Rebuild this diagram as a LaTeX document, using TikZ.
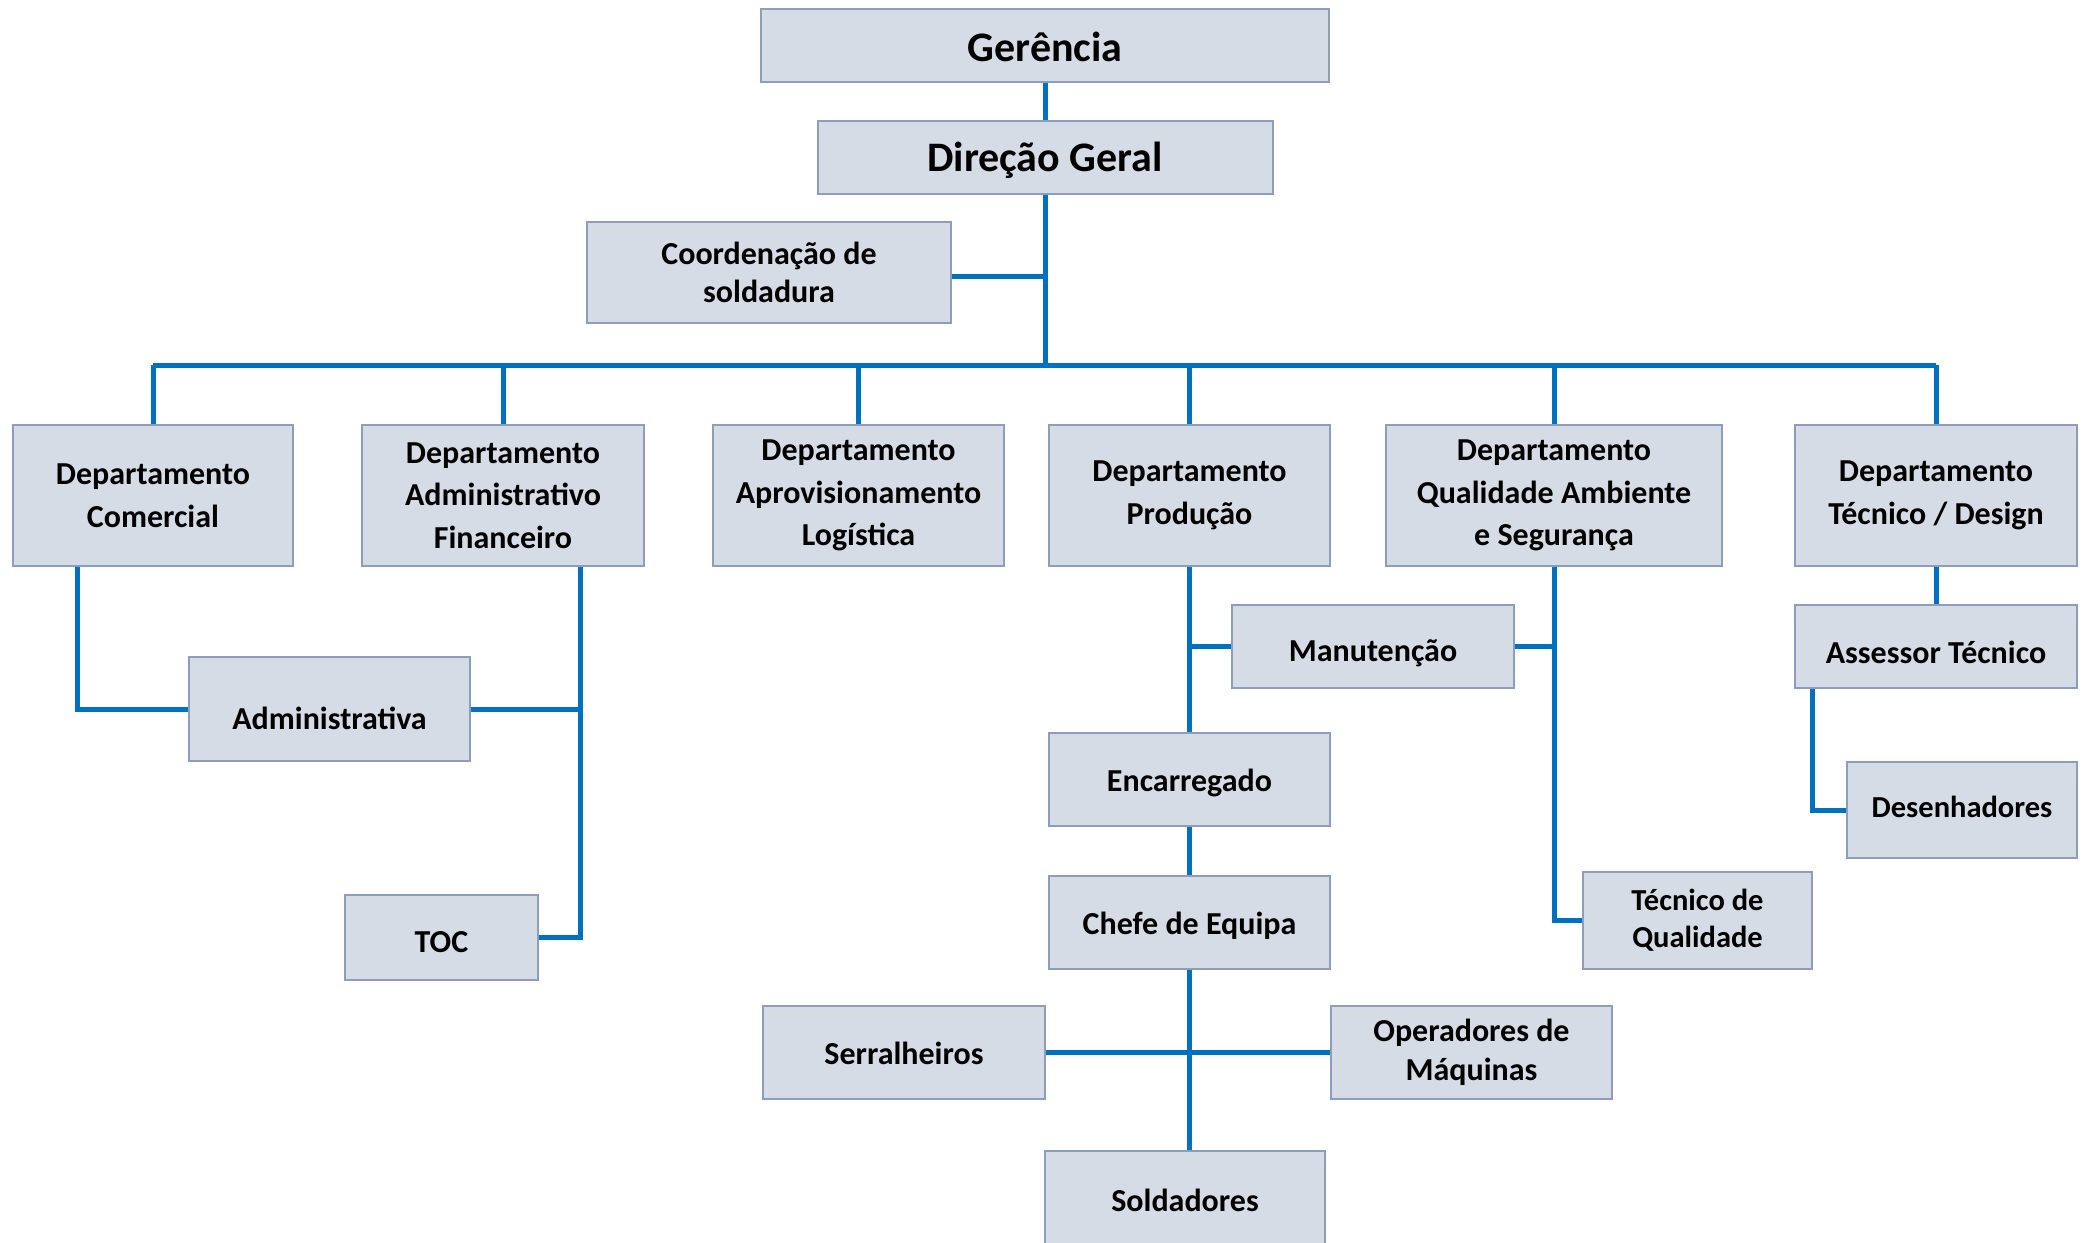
\documentclass[tikz,border=0pt]{standalone}
\usepackage{fontspec}
\setmainfont{Carlito}
\newcommand{\shiftdown}[2]{\raisebox{-#1}[\height][\depth]{#2}}
\begin{document}
\begin{tikzpicture}[x=1pt,y=-1pt,
  box/.style={draw=boxborder,fill=boxfill,line width=2pt,inner sep=0pt,align=center,
    font=\bfseries\fontsize{32}{42.5}\selectfont},
  bigbox/.style={box,font=\bfseries\fontsize{42}{50}\selectfont},
  tightbox/.style={box,font=\bfseries\fontsize{32}{38.5}\selectfont},
  smallbox/.style={box,font=\bfseries\fontsize{30.5}{37}\selectfont},
  conn/.style={draw=connblue,line width=5pt}]
\definecolor{boxfill}{HTML}{D6DCE5}
\definecolor{boxborder}{HTML}{8E9EBA}
\definecolor{connblue}{HTML}{0070C0}
\useasboundingbox (0,0) rectangle (2082,1242);
\clip (0,0) rectangle (2082,1242);
\fill[white] (0,0) rectangle (2082,1242);

\coordinate (bus) at (1045,365);

% nodes
\node[bigbox,minimum width=568,minimum height=73] (ger) at (1045,45.5) {\shiftdown{1.5pt}{Gerência}};
\node[bigbox,minimum width=455,minimum height=73] (dir) at (1045,157.5) {\shiftdown{2.5pt}{Direção Geral}};
\node[tightbox,minimum width=364,minimum height=101] (coord) at (769,272.5) {Coordenação de\\soldadura};

\node[box,minimum width=280,minimum height=141] (com) at (153,495.5) {Departamento\\Comercial};
\node[box,minimum width=282,minimum height=141] (adm) at (503,495.5) {Departamento\\Administrativo\\Financeiro};
\node[box,minimum width=291,minimum height=141] (apr) at (858.5,495.5) {Departamento\\Aprovisionamento\\Logística};
\node[box,minimum width=281,minimum height=141] (prod) at (1189.5,495.5) {Departamento\\Produção};
\node[box,minimum width=336,minimum height=141] (qual) at (1554,495.5) {Departamento\\Qualidade Ambiente\\e Segurança};
\node[box,minimum width=282,minimum height=141] (tec) at (1936,495.5) {Departamento\\Técnico / Design};

\node[box,minimum width=281,minimum height=104] (admva) at (329.5,709) {\shiftdown{9pt}{Administrativa}};
\node[box,minimum width=193,minimum height=85] (toc) at (441.5,937.5) {\shiftdown{5pt}{TOC}};

\node[box,minimum width=282,minimum height=83] (man) at (1373,646.5) {\shiftdown{7pt}{Manutenção}};
\node[box,minimum width=281,minimum height=93] (enc) at (1189.5,779.5) {\shiftdown{3pt}{Encarregado}};
\node[box,minimum width=281,minimum height=93] (chefe) at (1189.5,922.5) {\shiftdown{3pt}{Chefe de Equipa}};
\node[smallbox,minimum width=229,minimum height=97] (tq) at (1697.5,920.5) {Técnico de\\Qualidade};
\node[box,minimum width=282,minimum height=93] (serr) at (904,1052.5) {\shiftdown{1pt}{Serralheiros}};
\node[tightbox,minimum width=281,minimum height=93] (oper) at (1471.5,1052.5) {Operadores de\\Máquinas};
\node[box,minimum width=280,minimum height=99] (sold) at (1185,1200.5) {Soldadores};

\node[box,minimum width=282,minimum height=83] (ass) at (1936,646.5) {\shiftdown{6pt}{Assessor Técnico}};
\node[smallbox,minimum width=230,minimum height=96] (des) at (1962,810) {\shiftdown{-3pt}{Desenhadores}};

% helper coordinates for offset lines
\coordinate (comdown) at ([xshift=-76pt]com.south);
\coordinate (admdown) at ([xshift=77pt]adm.south);
\coordinate (assdown) at ([xshift=-124pt]ass.south);
\coordinate (coordout) at ([yshift=-4pt]coord.east);

% connectors
\draw[conn] (ger.south) -- (dir.north);
\draw[conn] (dir.south) -- (bus);
\draw[conn] (coordout) -- (coordout -| dir.south);
\draw[conn] (com.north |- bus) -- (tec.north |- bus);
\foreach \n in {com,adm,apr,prod,qual,tec}
  \draw[conn] (\n.north) -- (\n.north |- bus);

\draw[conn] (comdown) |- (admva.west);
\draw[conn] (admdown) |- (toc.east);
\draw[conn] (admva.east) -- (admva.east -| admdown);

\draw[conn] (prod.south) -- (enc.north);
\draw[conn] (man.west) -- (man.west -| prod.south);
\draw[conn] (qual.south) |- (tq.west);
\draw[conn] (man.east) -- (man.east -| qual.south);
\draw[conn] (enc.south) -- (chefe.north);
\draw[conn] (chefe.south) -- (chefe.south |- sold.north);
\draw[conn] (serr.east) -- (oper.west);

\draw[conn] (tec.south) -- (ass.north);
\draw[conn] (assdown) |- (des.west);
\end{tikzpicture}
\end{document}
